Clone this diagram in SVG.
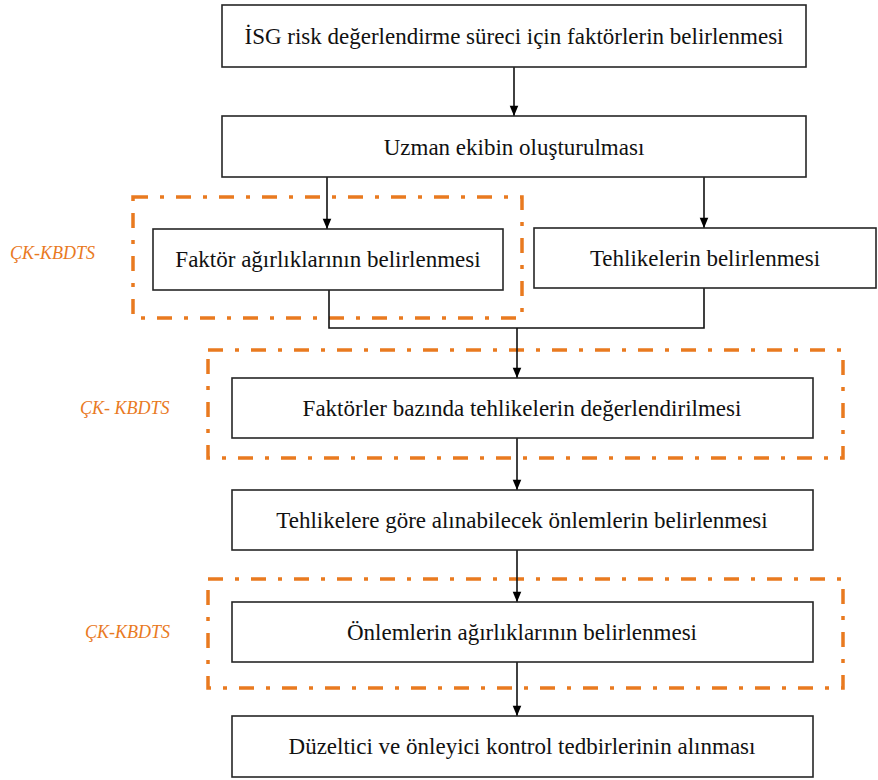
<svg xmlns="http://www.w3.org/2000/svg" width="878" height="780" viewBox="0 0 878 780">
<style>
.box{fill:#fff;stroke:#262626;stroke-width:1.6}
.t{font-family:'Liberation Serif','Times New Roman',serif;font-size:23px;fill:#111;text-anchor:middle}
.lbl{font-family:'Liberation Serif','Times New Roman',serif;font-size:18px;font-style:italic;fill:#E97A1F}
.grp{fill:none;stroke:#E97A1F;stroke-width:3.5;stroke-dasharray:15 12 4 12}
.c{fill:none;stroke:#111;stroke-width:1.6}
</style>
<defs>
<marker id="arr" markerUnits="userSpaceOnUse" markerWidth="12" markerHeight="14" refX="13" refY="6" orient="auto" viewBox="0 0 14 12">
<path d="M1,1 L13,6 L1,11 Z" fill="#000"/>
</marker>
</defs>
<g id="groups">
<rect class="grp" x="133" y="197" width="389" height="121"/>
<rect class="grp" x="208" y="350" width="635" height="108"/>
<rect class="grp" x="208" y="579" width="635" height="109"/>
</g>
<g id="labels">
<text class="lbl" x="10" y="259">ÇK-KBDTS</text>
<text class="lbl" x="80" y="414">ÇK- KBDTS</text>
<text class="lbl" x="85" y="638">ÇK-KBDTS</text>
</g>
<g id="connectors">
<line class="c" x1="514" y1="67" x2="514" y2="116" marker-end="url(#arr)"/>
<line class="c" x1="327" y1="177" x2="327" y2="229" marker-end="url(#arr)"/>
<line class="c" x1="704" y1="177" x2="704" y2="228" marker-end="url(#arr)"/>
<polyline class="c" points="329,290 329,328 704,328 704,288"/>
<line class="c" x1="517" y1="328" x2="517" y2="378" marker-end="url(#arr)"/>
<line class="c" x1="517" y1="438" x2="517" y2="490" marker-end="url(#arr)"/>
<line class="c" x1="517" y1="550" x2="517" y2="602" marker-end="url(#arr)"/>
<line class="c" x1="517" y1="662" x2="517" y2="716" marker-end="url(#arr)"/>
</g>
<g id="n1"><rect class="box" x="222" y="5" width="584" height="62"/><text class="t" x="514" y="44">İSG risk değerlendirme süreci için faktörlerin belirlenmesi</text></g>
<g id="n2"><rect class="box" x="222" y="116" width="584" height="61"/><text class="t" x="514" y="155">Uzman ekibin oluşturulması</text></g>
<g id="n3"><rect class="box" x="153" y="229" width="350" height="61"/><text class="t" x="328" y="267">Faktör ağırlıklarının belirlenmesi</text></g>
<g id="n4"><rect class="box" x="534" y="228" width="342" height="60"/><text class="t" x="705" y="266">Tehlikelerin belirlenmesi</text></g>
<g id="n5"><rect class="box" x="232" y="378" width="581" height="60"/><text class="t" x="522" y="416">Faktörler bazında tehlikelerin değerlendirilmesi</text></g>
<g id="n6"><rect class="box" x="232" y="490" width="581" height="60"/><text class="t" x="522" y="528">Tehlikelere göre alınabilecek önlemlerin belirlenmesi</text></g>
<g id="n7"><rect class="box" x="232" y="602" width="581" height="60"/><text class="t" x="522" y="640">Önlemlerin ağırlıklarının belirlenmesi</text></g>
<g id="n8"><rect class="box" x="232" y="716" width="581" height="61"/><text class="t" x="522" y="754">Düzeltici ve önleyici kontrol tedbirlerinin alınması</text></g>
</svg>
